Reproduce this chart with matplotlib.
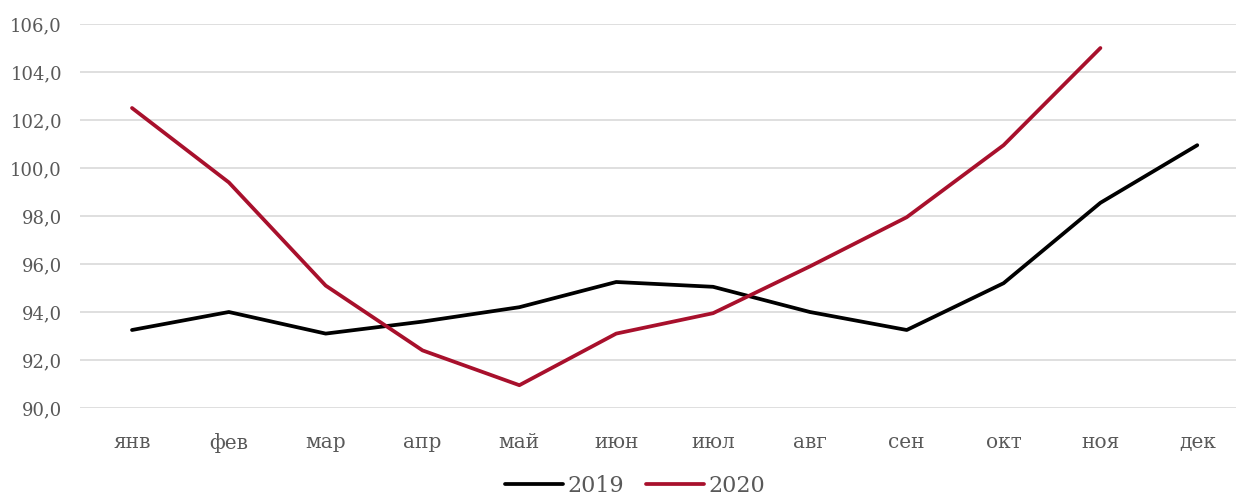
import matplotlib
matplotlib.use('Agg')
import matplotlib.pyplot as plt
from matplotlib.ticker import FuncFormatter

plt.rcParams['font.family'] = ['DejaVu Serif', 'Liberation Serif']

months = ['янв', 'фев', 'мар', 'апр', 'май', 'июн', 'июл', 'авг', 'сен', 'окт', 'ноя', 'дек']
vals_2019 = [93.25, 94.0, 93.1, 93.6, 94.2, 95.25, 95.05, 94.0, 93.25, 95.2, 98.55, 100.95]
vals_2020 = [102.5, 99.4, 95.1, 92.4, 90.95, 93.1, 93.95, 95.9, 97.95, 100.95, 105.0]

W, H = 1236, 495
fig = plt.figure(figsize=(W / 100, H / 100), dpi=100)
ax = fig.add_axes([80 / W, (H - 408) / H, 1 - 80 / W, (408 - 24) / H])

x = list(range(len(months)))
l1, = ax.plot(x, vals_2019, color='#000000', lw=2.7, label='2019', solid_capstyle='round')
l2, = ax.plot(x[:len(vals_2020)], vals_2020, color='#a8102c', lw=2.7, label='2020', solid_capstyle='round')

ax.set_ylim(90, 106)
ax.set_yticks(range(90, 107, 2))
ax.yaxis.set_major_formatter(FuncFormatter(lambda v, p: ('%.1f' % v).replace('.', ',')))
ax.set_xlim(-0.537, 11.40)
ax.set_xticks(x)
ax.set_xticklabels(months)

ax.grid(axis='y', color='#d9d9d9', lw=1.2)
ax.set_axisbelow(True)
for s in ax.spines.values():
    s.set_visible(False)
ax.tick_params(axis='both', length=0, labelcolor='#595959')
ax.tick_params(axis='x', pad=18, labelsize=14.5)
ax.tick_params(axis='y', pad=13, labelsize=13)

fig.legend(handles=[l1, l2], loc='center', bbox_to_anchor=(635 / W, 1 - 486 / H), ncol=2,
           frameon=False, fontsize=16, handlelength=2.6, handletextpad=0.2,
           columnspacing=1.0, labelcolor='#595959')

fig.savefig('out.png', dpi=100)
